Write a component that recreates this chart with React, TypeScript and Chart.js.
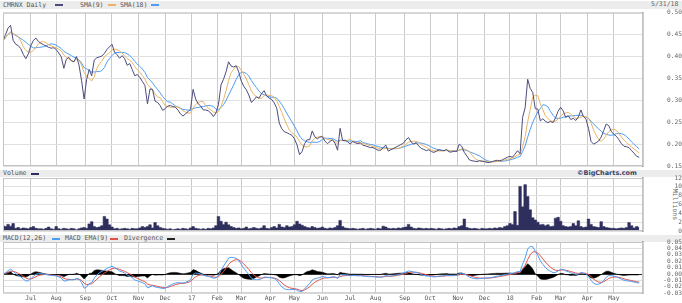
import React, { useEffect, useRef } from "react";
import { Chart, registerables } from "chart.js";

Chart.register(...registerables);

// ---------- data ----------
// price sampled every 2 trading days, starting ~Jun 1 2016, ending May 31 2018
const DAY_STEP = 2;
const price = [
  0.436, 0.450, 0.465, 0.471, 0.437, 0.428, 0.425, 0.418, 0.405, 0.395,
  0.406, 0.425, 0.437, 0.442, 0.434, 0.430, 0.427, 0.424, 0.421, 0.419,
  0.420, 0.416, 0.408, 0.399, 0.373, 0.394, 0.398, 0.390, 0.388, 0.400,
  0.380, 0.345, 0.303, 0.348, 0.370, 0.356, 0.392, 0.397, 0.399, 0.401,
  0.407, 0.416, 0.422, 0.428, 0.410, 0.404, 0.396, 0.402, 0.395, 0.380,
  0.384, 0.370, 0.356, 0.359, 0.352, 0.343, 0.334, 0.292, 0.326, 0.325,
  0.298, 0.295, 0.288, 0.277, 0.281, 0.287, 0.288, 0.286, 0.284, 0.278,
  0.269, 0.264, 0.269, 0.274, 0.280, 0.325, 0.303, 0.292, 0.287, 0.278,
  0.278, 0.276, 0.271, 0.263, 0.271, 0.290, 0.335, 0.348, 0.365, 0.388,
  0.378, 0.376, 0.379, 0.365, 0.344, 0.332, 0.324, 0.312, 0.295, 0.301,
  0.308, 0.305, 0.315, 0.322, 0.310, 0.305, 0.302, 0.294, 0.282, 0.248,
  0.235, 0.228, 0.226, 0.223, 0.220, 0.212, 0.198, 0.176, 0.183, 0.201,
  0.210, 0.210, 0.230, 0.217, 0.212, 0.216, 0.217, 0.207, 0.201, 0.206,
  0.210, 0.202, 0.186, 0.236, 0.208, 0.209, 0.205, 0.200, 0.206, 0.203,
  0.201, 0.203, 0.197, 0.196, 0.194, 0.192, 0.192, 0.189, 0.186, 0.186,
  0.192, 0.198, 0.184, 0.187, 0.190, 0.193, 0.196, 0.199, 0.202, 0.210,
  0.215, 0.205, 0.200, 0.203, 0.196, 0.190, 0.188, 0.185, 0.187, 0.183,
  0.181, 0.184, 0.187, 0.186, 0.185, 0.188, 0.182, 0.182, 0.184, 0.183,
  0.200, 0.195, 0.181, 0.173, 0.164, 0.162, 0.161, 0.160, 0.162, 0.161,
  0.160, 0.158, 0.158, 0.160, 0.162, 0.163, 0.162, 0.164, 0.167, 0.170,
  0.172, 0.170, 0.177, 0.185, 0.178, 0.261, 0.283, 0.348, 0.327, 0.318,
  0.281, 0.280, 0.253, 0.258, 0.252, 0.249, 0.252, 0.249, 0.260, 0.275,
  0.284, 0.276, 0.261, 0.265, 0.256, 0.259, 0.254, 0.262, 0.278, 0.263,
  0.257, 0.236, 0.206, 0.200, 0.203, 0.207, 0.216, 0.231, 0.246, 0.242,
  0.229, 0.222, 0.218, 0.210, 0.201, 0.195, 0.194, 0.192, 0.185, 0.179,
  0.172, 0.170,
];

// volume in millions, same sampling
const volume = [
  1.2, 1.0, 1.5, 1.1, 1.7, 0.6, 0.8, 0.5, 0.7, 0.6,
  0.5, 0.8, 1.0, 0.6, 0.5, 0.5, 0.4, 0.6, 0.9, 0.5,
  0.4, 1.0, 0.5, 0.4, 0.6, 0.5, 0.4, 0.6, 0.5, 0.3,
  0.5, 0.7, 0.8, 0.6, 1.6, 2.1, 1.0, 0.8, 0.9, 1.2,
  3.3, 2.7, 1.4, 0.9, 0.5, 0.6, 0.4, 0.5, 0.6, 0.5,
  0.4, 0.6, 0.5, 0.5, 0.7, 1.0, 0.8, 1.0, 1.4, 0.7,
  1.9, 1.2, 0.8, 0.6, 0.5, 0.4, 0.5, 0.3, 0.4, 0.5,
  0.4, 0.6, 0.5, 0.4, 0.7, 1.0, 0.6, 0.5, 0.4, 0.5,
  0.4, 0.6, 0.5, 0.7, 1.2, 3.3, 2.2, 1.5, 2.0, 1.4,
  1.0, 0.8, 0.6, 0.7, 0.5, 0.6, 0.9, 0.5, 0.6, 0.8,
  0.6, 0.5, 0.7, 1.2, 0.6, 0.5, 0.8, 1.0, 0.7, 1.5,
  0.9, 0.8, 1.2, 0.9, 1.0, 1.4, 2.2, 1.6, 1.3, 1.0,
  0.8, 0.7, 1.0, 0.8, 0.6, 0.7, 0.9, 0.6, 0.5, 0.7,
  0.6, 0.8, 1.2, 2.4, 1.0, 0.7, 0.6, 0.5, 0.6, 0.5,
  0.4, 0.5, 0.6, 0.4, 0.5, 0.6, 0.5, 0.4, 0.6, 0.5,
  1.1, 0.9, 0.6, 0.5, 0.6, 0.5, 0.7, 0.6, 0.8, 0.9,
  1.5, 0.9, 0.6, 0.5, 0.7, 0.6, 0.5, 0.6, 0.5, 0.6,
  0.5, 0.4, 0.6, 0.5, 0.4, 0.5, 0.6, 0.5, 0.7, 0.6,
  1.0, 1.2, 2.7, 0.8, 0.6, 0.5, 0.6, 0.5, 0.4, 0.6,
  0.5, 0.5, 0.6, 0.5, 0.7, 0.6, 0.8, 0.7, 1.0, 1.2,
  1.7, 1.5, 4.4, 1.3, 10.1, 5.5, 10.5, 7.8, 4.8, 3.0,
  2.5, 2.0, 1.4, 1.5, 1.2, 1.4, 1.0, 1.1, 2.9, 3.1,
  2.2, 1.2, 1.0, 0.9, 1.0, 1.7, 1.2, 2.3, 1.0, 0.8,
  0.9, 2.7, 1.5, 1.0, 0.9, 0.8, 2.1, 1.0, 0.8, 0.7,
  0.6, 0.6, 0.5, 0.6, 0.7, 0.6, 0.8, 1.9, 1.2, 0.7,
  1.0, 0.8,
];

// trading-day index of each month start and its label
const monthStarts = [22, 42, 65, 86, 107, 128, 149, 169, 188, 211, 230, 252, 274, 294, 317, 337, 359, 380, 400, 421, 440, 461, 482];
const monthLabels = ["Jul", "Aug", "Sep", "Oct", "Nov", "Dec", "17", "Feb", "Mar", "Apr", "May", "Jun", "Jul", "Aug", "Sep", "Oct", "Nov", "Dec", "18", "Feb", "Mar", "Apr", "May"];

const priceTicks = [0.15, 0.2, 0.25, 0.3, 0.35, 0.4, 0.45, 0.5];
const volumeTicks = [0, 2, 4, 6, 8, 10, 12];
const macdTicks = [-0.03, -0.02, -0.01, 0, 0.01, 0.02, 0.03, 0.04, 0.05];

// ---------- indicators (derived from the price list) ----------
function sma(arr: number[], n: number): number[] {
  return arr.map((_, i) => {
    const w = arr.slice(Math.max(0, i - n + 1), i + 1);
    return w.reduce((a, b) => a + b, 0) / w.length;
  });
}
function ema(arr: number[], days: number): number[] {
  const alpha = 1 - Math.pow(1 - 2 / (days + 1), DAY_STEP);
  const out: number[] = [];
  let e = arr[0];
  arr.forEach((v, i) => {
    e = i === 0 ? v : e + alpha * (v - e);
    out.push(e);
  });
  return out;
}
const sma9 = sma(price, Math.round(9 / DAY_STEP + 0.5));
const sma18 = sma(price, 18 / DAY_STEP);
const ema12 = ema(price, 12);
const ema26 = ema(price, 26);
const macd = ema12.map((v, i) => v - ema26[i]);
const signal = ema(macd, 9);
const divergence = macd.map((v, i) => v - signal[i]);

const pts = (arr: number[]) => arr.map((y, i) => ({ x: i * DAY_STEP, y }));

// ---------- styling ----------
const MONO = "DejaVu Sans Mono";
const TICK_FONT = { family: MONO, size: 6.2 };
const TICK_COLOR = "#666";
const X_MIN = 0;
const X_MAX = 505;

function xScale(show: boolean, h: number): any {
  return {
    type: "linear",
    min: X_MIN,
    max: X_MAX,
    afterBuildTicks: (s: any) => {
      s.ticks = monthStarts.map((v) => ({ value: v }));
    },
    afterFit: (s: any) => {
      s.height = h;
    },
    ticks: {
      display: show,
      autoSkip: false,
      maxRotation: 0,
      padding: 1,
      font: TICK_FONT,
      color: "#555",
      callback: (_v: any, i: number) => monthLabels[i],
    },
    grid: { color: "#cacaca", drawTicks: false, lineWidth: 1 },
    border: { display: false },
  };
}

function yScale(min: number, max: number, ticks: number[], fmt: (v: number) => string, pad: number, zeroDark = false): any {
  return {
    type: "linear",
    position: "right",
    min,
    max,
    afterBuildTicks: (s: any) => {
      s.ticks = ticks.map((v) => ({ value: v }));
    },
    afterFit: (s: any) => {
      s.width = 39;
    },
    ticks: {
      autoSkip: false,
      crossAlign: "far",
      padding: pad,
      font: TICK_FONT,
      color: TICK_COLOR,
      callback: (v: any) => fmt(Number(v)),
    },
    grid: {
      drawTicks: false,
      lineWidth: 1,
      color: (c: any) => (zeroDark && c.tick && Math.abs(c.tick.value) < 1e-9 ? "#333" : "#e0e0e0"),
    },
    border: { display: true, color: "#999", width: 1.5 },
  };
}

const framePlugin = {
  id: "frame",
  afterDatasetsDraw(chart: any) {
    const { ctx, chartArea: a } = chart;
    ctx.save();
    ctx.strokeStyle = "#c4c4c4";
    ctx.lineWidth = 1;
    ctx.strokeRect(a.left + 0.5, a.top + 0.5, a.right - a.left - 1, a.bottom - a.top - 1);
    ctx.restore();
  },
};

const baseOpts = (padding: any) => ({
  responsive: false,
  animation: false as const,
  events: [] as any[],
  layout: { padding },
  plugins: { legend: { display: false }, tooltip: { enabled: false } },
});

const lineDs = (label: string, data: number[], color: string, width = 1) => ({
  label,
  data: pts(data),
  borderColor: color,
  borderWidth: width,
  pointRadius: 0,
  tension: 0,
  fill: false,
});

// ---------- component ----------
const W = 682;
const H = 303;

const stripStyle = (top: number, h: number): React.CSSProperties => ({
  position: "absolute",
  left: 0,
  top,
  width: W,
  height: h,
  background: "#ececec",
});
const txt = (left: number, top: number, extra: React.CSSProperties = {}): React.CSSProperties => ({
  position: "absolute",
  left,
  top,
  fontFamily: MONO,
  fontSize: 6.5,
  lineHeight: "7px",
  color: "#555",
  whiteSpace: "nowrap",
  ...extra,
});
const swatch = (left: number, top: number, color: string): React.CSSProperties => ({
  position: "absolute",
  left,
  top,
  width: 8,
  height: 2,
  background: color,
});

const C_PRICE = "#4c4c7c";
const C_SMA9 = "#e8b464";
const C_SMA18 = "#4d9cf5";
const C_VOL = "#2f2f5e";
const C_MACD = "#4d9cf5";
const C_SIG = "#e0524a";

export default function App() {
  const priceRef = useRef<HTMLCanvasElement>(null);
  const volRef = useRef<HTMLCanvasElement>(null);
  const macdRef = useRef<HTMLCanvasElement>(null);

  useEffect(() => {
    const prevMargin = document.body.style.margin;
    document.body.style.margin = "0";

    const priceChart = new Chart(priceRef.current as HTMLCanvasElement, {
      type: "line",
      data: {
        datasets: [
          lineDs("CMRNX Daily", price, C_PRICE),
          lineDs("SMA(9)", sma9, C_SMA9),
          lineDs("SMA(18)", sma18, C_SMA18),
        ] as any,
      },
      options: {
        ...baseOpts({ top: 11, bottom: H - 166, left: 3, right: 0 }),
        scales: {
          x: xScale(false, 0),
          y: yScale(0.15, 0.5, priceTicks, (v) => v.toFixed(2), 9),
        },
      } as any,
      plugins: [framePlugin],
    });

    const volChart = new Chart(volRef.current as HTMLCanvasElement, {
      type: "line",
      data: {
        datasets: [
          {
            label: "Volume",
            data: pts(volume),
            backgroundColor: C_VOL,
            borderColor: C_VOL,
            borderWidth: 0.6,
            pointRadius: 0,
            stepped: "middle",
            fill: "origin",
          },
        ] as any,
      },
      options: {
        ...baseOpts({ top: 178, bottom: H - 231, left: 3, right: 0 }),
        scales: {
          x: xScale(false, 0),
          y: yScale(0, 12, volumeTicks, (v) => String(Math.round(v)), 1),
        },
      } as any,
      plugins: [framePlugin],
    });

    const macdChart = new Chart(macdRef.current as HTMLCanvasElement, {
      type: "line",
      data: {
        datasets: [
          lineDs("MACD(12,26)", macd, C_MACD),
          lineDs("MACD EMA(9)", signal, C_SIG),
          {
            label: "Divergence",
            data: pts(divergence),
            borderColor: "#000",
            borderWidth: 0.5,
            backgroundColor: "#000",
            pointRadius: 0,
            tension: 0,
            fill: { value: 0 },
          },
        ] as any,
      },
      options: {
        ...baseOpts({ top: 242, bottom: 0, left: 3, right: 0 }),
        scales: {
          x: xScale(true, 8),
          y: yScale(-0.03, 0.05, macdTicks, (v) => v.toFixed(2), 6, true),
        },
      } as any,
      plugins: [framePlugin],
    });

    return () => {
      priceChart.destroy();
      volChart.destroy();
      macdChart.destroy();
      document.body.style.margin = prevMargin;
    };
  }, []);

  const canvasStyle: React.CSSProperties = { position: "absolute", left: 0, top: 0, width: W, height: H };

  return (
    <div style={{ position: "relative", width: W, height: H, background: "#fff", overflow: "hidden" }}>
      {/* legend strips */}
      <div style={stripStyle(1, 8)} />
      <div style={stripStyle(170, 7)} />
      <div style={stripStyle(235, 7)} />

      <span style={txt(3, 1.5)}>CMRNX Daily</span>
      <div style={swatch(55, 4, C_PRICE)} />
      <span style={txt(80, 1.5)}>SMA(9)</span>
      <div style={swatch(108, 4, C_SMA9)} />
      <span style={txt(120, 1.5)}>SMA(18)</span>
      <div style={swatch(151, 4, C_SMA18)} />
      <span style={txt(651, 1, { color: "#666" })}>5/31/18</span>

      <span style={txt(3, 170)}>Volume</span>
      <div style={swatch(31, 172.5, C_VOL)} />
      <span style={txt(577, 170, { fontWeight: "bold", color: "#3a3f66", fontFamily: "DejaVu Sans" })}>©BigCharts.com</span>

      <span style={txt(3, 235)}>MACD(12,26)</span>
      <div style={swatch(52, 237.5, C_MACD)} />
      <span style={txt(65, 235)}>MACD EMA(9)</span>
      <div style={swatch(110, 237.5, C_SIG)} />
      <span style={txt(124, 235)}>Divergence</span>
      <div style={swatch(167, 237.5, "#222")} />

      <span
        style={txt(659, 201, {
          transform: "rotate(90deg)",
          transformOrigin: "center center",
          color: "#666",
        })}
      >
        Millions
      </span>

      <canvas ref={priceRef} width={W} height={H} style={canvasStyle} />
      <canvas ref={volRef} width={W} height={H} style={canvasStyle} />
      <canvas ref={macdRef} width={W} height={H} style={canvasStyle} />
    </div>
  );
}
